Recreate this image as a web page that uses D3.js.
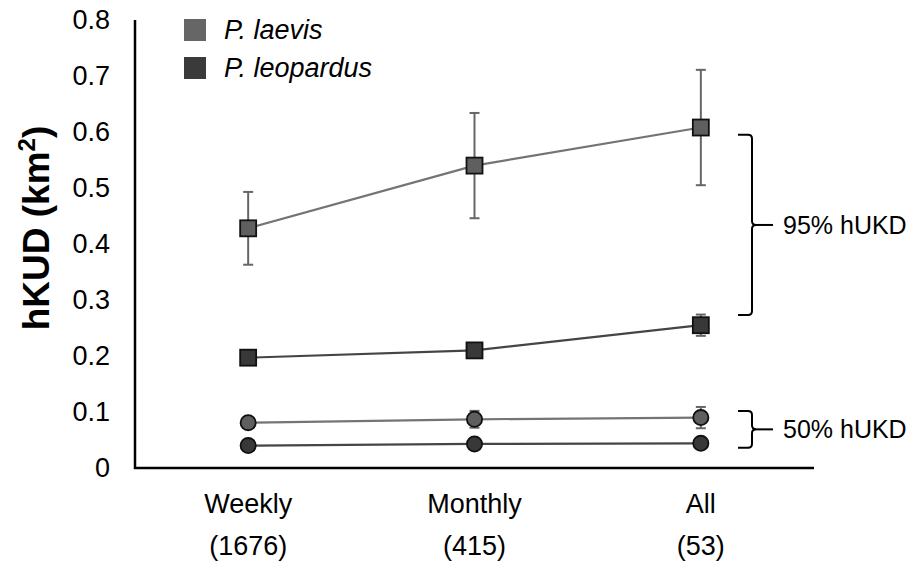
<!DOCTYPE html>
<html>
<head>
<meta charset="utf-8">
<script src="https://cdn.jsdelivr.net/npm/d3@7"></script>
<style>
  body { margin: 0; background: #fff; }
  svg { font-family: "Liberation Sans", Arial, sans-serif; }
</style>
</head>
<body>
<svg id="chart"></svg>
<script>
const categories = ["Weekly", "Monthly", "All"];
const counts = ["(1676)", "(415)", "(53)"];
const yTicks = [0, 0.1, 0.2, 0.3, 0.4, 0.5, 0.6, 0.7, 0.8];

// 95% hUKD (squares)
const laevis95 = [0.428, 0.540, 0.608];
const laevis95Err = [0.065, 0.094, 0.103];
const leopardus95 = [0.197, 0.210, 0.255];
const leopardus95Err = [0.003, 0.004, 0.019];

// 50% hUKD (circles)
const laevis50 = [0.081, 0.087, 0.090];
const laevis50Err = [0.005, 0.015, 0.019];
const leopardus50 = [0.040, 0.043, 0.044];
const leopardus50Err = [0.002, 0.002, 0.002];

const species = ["P. laevis", "P. leopardus"];
const bracket95 = [0.273, 0.595];
const bracket50 = [0.036, 0.102];

const width = 911, height = 561;
const margin = {left: 135, right: 97, top: 20, bottom: 93};

const svg = d3.select("#chart").attr("width", width).attr("height", height);

const x = d3.scalePoint()
  .domain(categories)
  .range([margin.left, width - margin.right])
  .padding(0.5);

const y = d3.scaleLinear()
  .domain([0, 0.8])
  .range([height - margin.bottom, margin.top]);

// y axis labels (no tick marks)
const yAxis = svg.append("g")
  .attr("transform", `translate(${margin.left},0)`)
  .call(d3.axisLeft(y).tickValues(yTicks).tickSize(0).tickPadding(25)
    .tickFormat(d => d === 0 ? "0" : d3.format(".1f")(d)));
yAxis.select(".domain").remove();
yAxis.selectAll("text").attr("font-size", 27).attr("fill", "#000")
  .style("font-family", "Liberation Sans, Arial, sans-serif");

// axis lines
svg.append("path")
  .attr("d", `M${margin.left},${margin.top}V${y(0)}H${width - margin.right}`)
  .attr("fill", "none").attr("stroke", "#000").attr("stroke-width", 2.5);

// x labels
const xl = svg.append("g");
categories.forEach((c, i) => {
  xl.append("text").attr("x", x(c)).attr("y", 513).attr("text-anchor", "middle")
    .attr("font-size", 27).text(c);
  xl.append("text").attr("x", x(c)).attr("y", 555).attr("text-anchor", "middle")
    .attr("font-size", 27).text(counts[i]);
});

// y title
svg.append("text")
  .attr("transform", `translate(49,228) rotate(-90)`)
  .attr("text-anchor", "middle")
  .attr("font-size", 37).attr("font-weight", "bold")
  .html('hKUD (km<tspan dy="-14" font-size="24">2</tspan><tspan dy="14">)</tspan>');

const series = [
  {vals: laevis95, err: laevis95Err, shape: "square", fill: "#5f5f5f", line: "#747474"},
  {vals: leopardus95, err: leopardus95Err, shape: "square", fill: "#383838", line: "#454545"},
  {vals: laevis50, err: laevis50Err, shape: "circle", fill: "#5f5f5f", line: "#747474"},
  {vals: leopardus50, err: leopardus50Err, shape: "circle", fill: "#383838", line: "#454545"}
];

const line = d3.line().x((d, i) => x(categories[i])).y(d => y(d));

series.forEach(s => {
  const g = svg.append("g");
  g.append("path").datum(s.vals).attr("d", line)
    .attr("fill", "none").attr("stroke", s.line).attr("stroke-width", 2.2);

  // error bars
  const eb = g.selectAll(".eb").data(s.vals).enter().append("g");
  eb.append("line")
    .attr("x1", (d, i) => x(categories[i])).attr("x2", (d, i) => x(categories[i]))
    .attr("y1", (d, i) => y(d + s.err[i])).attr("y2", (d, i) => y(d - s.err[i]))
    .attr("stroke", "#666").attr("stroke-width", 2);
  [1, -1].forEach(sign => {
    eb.append("line")
      .attr("x1", (d, i) => x(categories[i]) - 5).attr("x2", (d, i) => x(categories[i]) + 5)
      .attr("y1", (d, i) => y(d + sign * s.err[i])).attr("y2", (d, i) => y(d + sign * s.err[i]))
      .attr("stroke", "#666").attr("stroke-width", 2);
  });

  if (s.shape === "square") {
    g.selectAll(".mk").data(s.vals).enter().append("rect")
      .attr("x", (d, i) => x(categories[i]) - 8).attr("y", d => y(d) - 8)
      .attr("width", 16).attr("height", 16)
      .attr("fill", s.fill).attr("stroke", "#111").attr("stroke-width", 1.8);
  } else {
    g.selectAll(".mk").data(s.vals).enter().append("circle")
      .attr("cx", (d, i) => x(categories[i])).attr("cy", d => y(d)).attr("r", 7.6)
      .attr("fill", s.fill).attr("stroke", "#111").attr("stroke-width", 1.8);
  }
});

// brackets
function bracket(range, label) {
  const top = y(range[1]), bot = y(range[0]), mid = (top + bot) / 2;
  svg.append("path")
    .attr("d", `M738,${top}H748Q752,${top} 752,${top + 4}V${mid - 4}Q752,${mid} 756,${mid}Q752,${mid} 752,${mid + 4}V${bot - 4}Q752,${bot} 748,${bot}H738`)
    .attr("fill", "none").attr("stroke", "#000").attr("stroke-width", 2);
  svg.append("line").attr("x1", 754).attr("x2", 773).attr("y1", mid).attr("y2", mid)
    .attr("stroke", "#000").attr("stroke-width", 2);
  svg.append("text").attr("x", 783).attr("y", mid).attr("dy", "0.35em")
    .attr("font-size", 25).text(label);
}
bracket(bracket95, "95% hUKD");
bracket(bracket50, "50% hUKD");

// legend
const legColors = ["#666", "#3a3a3a"];
species.forEach((sp, i) => {
  const ly = 19 + i * 38;
  svg.append("rect").attr("x", 184).attr("y", ly).attr("width", 22).attr("height", 22)
    .attr("fill", legColors[i]);
  svg.append("text").attr("x", 224).attr("y", ly + 20)
    .attr("font-size", 27).attr("font-style", "italic").text(sp);
});
</script>
</body>
</html>
